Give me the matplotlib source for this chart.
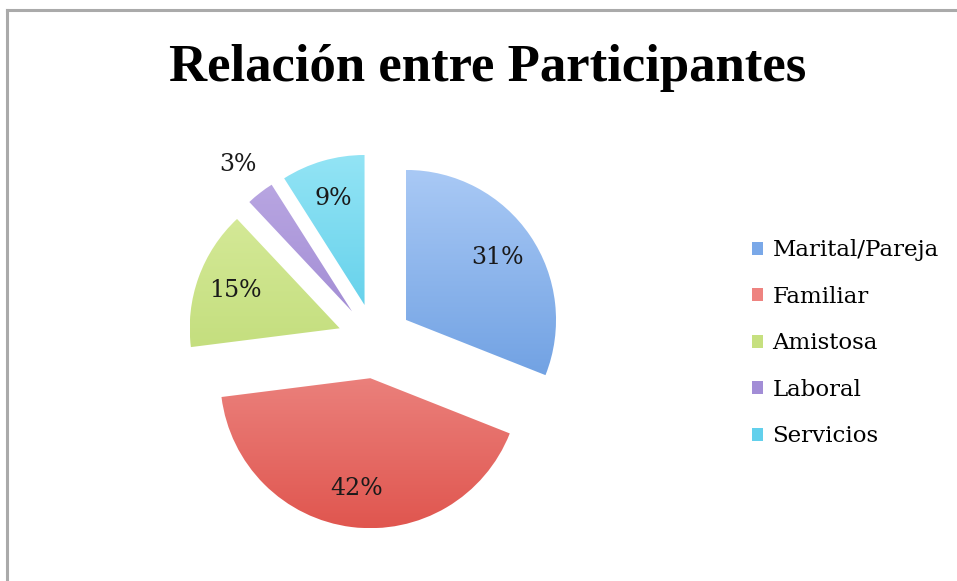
import numpy as np
import matplotlib
matplotlib.use("Agg")
import matplotlib.pyplot as plt
from matplotlib.colors import LinearSegmentedColormap
from matplotlib.patches import Rectangle

# data
categories = ["Marital/Pareja", "Familiar", "Amistosa", "Laboral", "Servicios"]
values = [31, 42, 15, 3, 9]
title = "Relación entre Participantes"

# light -> dark shading per slice
top_colors = ["#a9c9f5", "#f5aaa8", "#d9ec9e", "#bcaae4", "#93e4f5"]
bot_colors = ["#5890db", "#e0564f", "#b4d466", "#8b72c6", "#3bc0e2"]
mid_colors = ["#7aa8e8", "#ee8380", "#c6e07f", "#a28dd6", "#62d0ec"]

W, H = 957, 581
cx, cy, R = 375, 341, 150  # pixel center / radius of the pie

fig = plt.figure(figsize=(W / 100, H / 100), dpi=100)
ax = fig.add_axes([0, 0, 1, 1])

wedges, texts, autotexts = ax.pie(
    values, colors=mid_colors, startangle=90, counterclock=False,
    explode=[0.25] * len(values), autopct="%1.0f%%", pctdistance=0.74,
    textprops=dict(family="DejaVu Serif", fontsize=17, color="#1a1a1a"))

ax.set_aspect("equal")
ax.axis("off")

# vertical gradient inside every wedge
grad = np.linspace(0, 1, 256).reshape(-1, 1)
for w, c0, c1 in zip(wedges, top_colors, bot_colors):
    w.set_facecolor("none")
    w.set_edgecolor("none")
    cmap = LinearSegmentedColormap.from_list("g", [c0, c1])
    cxw, cyw = w.center
    im = ax.imshow(grad, cmap=cmap, aspect="auto", interpolation="bilinear",
                   extent=[cxw - 1, cxw + 1, cyw - 1, cyw + 1], zorder=1)
    im.set_clip_path(w)

# the small slice label sits outside
w = wedges[3]
ang = np.deg2rad((w.theta1 + w.theta2) / 2)
autotexts[3].set_position((w.center[0] + 1.24 * np.cos(ang),
                           w.center[1] + 1.24 * np.sin(ang)))
for t in autotexts:
    t.set_zorder(3)

ax.set_xlim(-cx / R, (W - cx) / R)
ax.set_ylim(-(H - cy) / R, cy / R)

fig.text(0.51, 0.883, title, ha="center", va="center",
         fontsize=38, fontweight="bold", family="Liberation Serif")

# legend
handles = [Rectangle((0, 0), 1, 1, facecolor=c) for c in mid_colors]
fig.legend(handles, categories, loc="upper left", bbox_to_anchor=(0.764, 0.6235),
           frameon=False, prop=dict(family="DejaVu Serif", size=16.5),
           handlelength=0.5, handleheight=0.5, handletextpad=0.4,
           labelspacing=1.07)

# outer frame (top and left edges visible)
fig.add_artist(plt.Line2D([7 / W, 7 / W], [0, 1 - 10 / H], color="#aaaaaa", lw=2.2))
fig.add_artist(plt.Line2D([7 / W, 1], [1 - 10 / H, 1 - 10 / H], color="#aaaaaa", lw=2.2))

fig.savefig("out.png", dpi=100)
